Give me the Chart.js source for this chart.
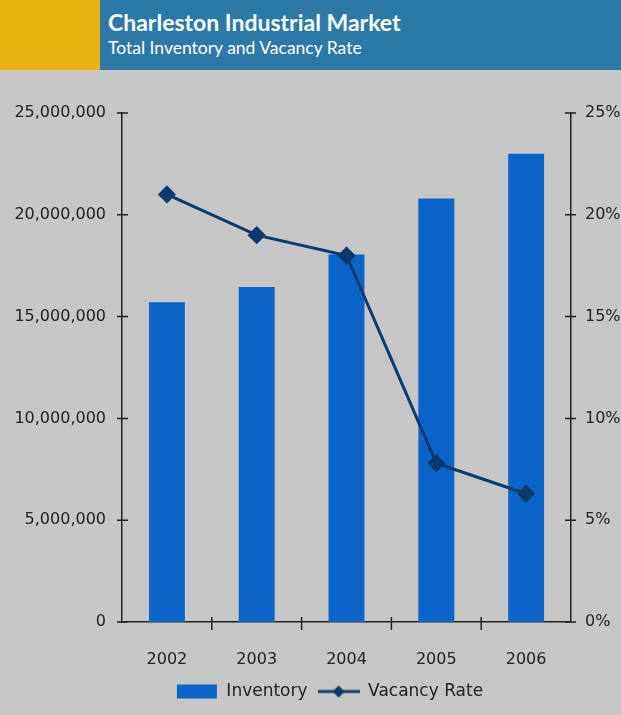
<!DOCTYPE html>
<html>
<head>
<meta charset="utf-8">
<script src="https://cdn.jsdelivr.net/npm/chart.js@4.4.1/dist/chart.umd.min.js"></script>
<style>
  body { margin: 0; width: 621px; height: 715px; background: #c6c6c6; overflow: hidden; }
  #header { position: absolute; left: 0; top: 0; width: 621px; height: 70px; }
  #gold { position: absolute; left: 0; top: 0; width: 100px; height: 70px; background: #e9b10f; }
  #band { position: absolute; left: 100px; top: 0; width: 521px; height: 70px; background: #2c79a8; }
  #title { position: absolute; left: 8px; top: 8px; color: #fff; font: bold 23px Lato, sans-serif; }
  #subtitle { position: absolute; left: 8px; top: 37px; color: #fff; font: 17.5px Lato, sans-serif; }
  #wrap { position: absolute; left: 0; top: 70px; width: 621px; height: 645px; }
</style>
</head>
<body>
<div id="header">
  <div id="gold"></div>
  <div id="band">
    <div id="title">Charleston Industrial Market</div>
    <div id="subtitle">Total Inventory and Vacancy Rate</div>
  </div>
</div>
<div id="wrap"><canvas id="chart"></canvas></div>
<script>
const years = ['2002', '2003', '2004', '2005', '2006'];
const inventory = [15700000, 16450000, 18050000, 20800000, 23000000];
const vacancyRate = [21.0, 19.0, 18.0, 7.8, 6.3];

const barColor = '#0b64c8';
const lineColor = '#0d3a6e';
const axisColor = '#222';

// legend swatches drawn as small canvases
function makeSwatch(kind) {
    const c = document.createElement('canvas');
    c.width = 42; c.height = 16;
    const g = c.getContext('2d');
    if (kind === 'bar') {
        g.fillStyle = barColor;
        g.fillRect(1, 1, 40, 14);
    } else {
        g.strokeStyle = lineColor;
        g.lineWidth = 3;
        g.beginPath(); g.moveTo(0, 8); g.lineTo(42, 8); g.stroke();
        g.fillStyle = lineColor;
        g.beginPath(); g.moveTo(21, 2); g.lineTo(27, 8); g.lineTo(21, 14); g.lineTo(15, 8); g.closePath(); g.fill();
    }
    return c;
}

// tick marks that cross the axis lines + legend placement tweaks
const crossTicks = {
    id: 'crossTicks',
    beforeLayout(chart) {
        const lg = chart.legend;
        if (lg && !lg._fixed) {
            const fit = lg.fit;
            lg.fit = function () { fit.call(this); this.height = 42; };
            // legend sits a bit right of centre in the original
            const draw = lg.draw;
            lg.draw = function () {
                this.left += 19; this.right += 19;
                draw.call(this);
                this.left -= 19; this.right -= 19;
            };
            lg._fixed = true;
        }
    },
    afterDraw(chart) {
        const ctx = chart.ctx;
        const x = chart.scales.x, y = chart.scales.y, y1 = chart.scales.y1;
        ctx.save();
        ctx.strokeStyle = axisColor;
        ctx.lineWidth = 1.5;
        ctx.beginPath();
        y.ticks.forEach(t => {
            const py = y.getPixelForValue(t.value);
            ctx.moveTo(x.left - 5, py); ctx.lineTo(x.left + 6, py);
        });
        y1.ticks.forEach(t => {
            const py = y1.getPixelForValue(t.value);
            ctx.moveTo(x.right - 6, py); ctx.lineTo(x.right + 5, py);
        });
        for (let i = 0; i < years.length - 1; i++) {
            const px = (x.getPixelForValue(i) + x.getPixelForValue(i + 1)) / 2;
            ctx.moveTo(px, y.bottom - 5); ctx.lineTo(px, y.bottom + 8);
        }
        ctx.stroke();
        ctx.restore();
    }
};

const tickFont = { family: 'DejaVu Sans', size: 16 };

new Chart(document.getElementById('chart'), {
    data: {
        labels: years,
        datasets: [
            {
                type: 'line',
                label: 'Vacancy Rate',
                data: vacancyRate,
                yAxisID: 'y1',
                borderColor: lineColor,
                backgroundColor: lineColor,
                borderWidth: 3,
                pointStyle: 'rectRot',
                pointRadius: 7,
                pointBackgroundColor: lineColor,
                tension: 0,
                order: 0
            },
            {
                type: 'bar',
                label: 'Inventory',
                data: inventory,
                yAxisID: 'y',
                backgroundColor: barColor,
                barPercentage: 0.4,
                categoryPercentage: 1,
                order: 1
            }
        ]
    },
    options: {
        responsive: true,
        maintainAspectRatio: false,
        animation: false,
        layout: { padding: { top: 43, left: 0, right: 0, bottom: 0 } },
        plugins: {
            tooltip: { enabled: false },
            legend: {
                position: 'bottom',
                reverse: true,
                labels: {
                    usePointStyle: true,
                    pointStyleWidth: 42,
                    boxHeight: 16,
                    color: '#222',
                    font: { family: 'DejaVu Sans', size: 17 },
                    padding: 10,
                    generateLabels(chart) {
                        return chart.data.datasets.map((ds, i) => ({
                            text: ds.label,
                            pointStyle: makeSwatch(ds.type),
                            fontColor: '#222',
                            datasetIndex: i,
                            lineWidth: 0
                        }));
                    }
                }
            }
        },
        scales: {
            x: {
                offset: true,
                grid: { display: false, drawTicks: false },
                border: { color: axisColor, width: 1.5 },
                ticks: { color: '#222', font: tickFont, padding: 28 },
                afterFit: s => { s.height = 51; }
            },
            y: {
                position: 'left',
                min: 0, max: 25000000,
                ticks: {
                    stepSize: 5000000,
                    color: '#222',
                    font: tickFont,
                    padding: 16,
                    callback: v => v.toLocaleString('en-US')
                },
                grid: { display: false, drawTicks: false },
                border: { color: axisColor, width: 1.5 },
                afterFit: s => { s.width = 122; }
            },
            y1: {
                position: 'right',
                min: 0, max: 25,
                ticks: {
                    stepSize: 5,
                    color: '#222',
                    font: tickFont,
                    padding: 14,
                    callback: v => v + '%'
                },
                grid: { display: false, drawTicks: false },
                border: { color: axisColor, width: 1.5 },
                afterFit: s => { s.width = 50; }
            }
        }
    },
    plugins: [crossTicks]
});
</script>
</body>
</html>
